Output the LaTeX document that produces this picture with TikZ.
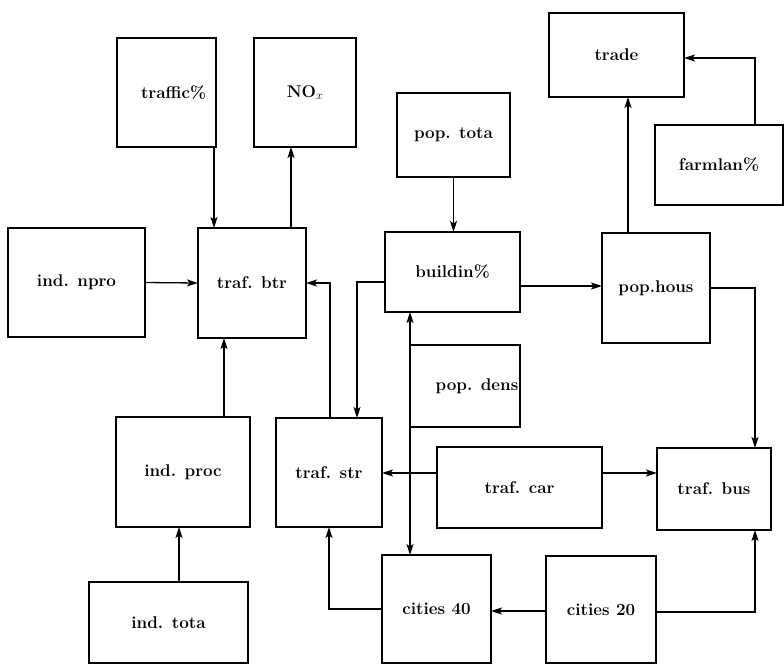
\documentclass[tikz,border=0pt]{standalone}
\usetikzlibrary{arrows.meta}
\begin{document}
\begin{tikzpicture}[x=1pt,y=-1pt,
  box/.style={draw,line width=1.6pt,rectangle,inner sep=0pt,outer sep=0pt,
    font=\fontsize{17}{20}\selectfont\bfseries},
  conn/.style={line width=1.3pt},
  arr/.style={conn,-{Stealth[length=11pt,width=7pt,inset=2.5pt]}}]
\useasboundingbox (0,0) rectangle (784,664);
% boxes
\node[box,minimum width=99pt,minimum height=109pt] (traffic) at (166.5,92.5) {\hspace*{14pt}traffic\%};
\node[box,minimum width=102pt,minimum height=109pt] (NOx) at (305,92.5) {NO$_x$};
\node[box,minimum width=137pt,minimum height=109pt] (indnpro) at (76.5,282.5) {ind. npro};
\node[box,minimum width=108pt,minimum height=110pt] (trafbtr) at (252,283) {traf. btr};
\node[box,minimum width=134pt,minimum height=110pt] (indproc) at (183,472) {ind. proc};
\node[box,minimum width=159pt,minimum height=81pt] (indtota) at (168.5,622.5) {ind. tota};
\node[box,minimum width=106pt,minimum height=109pt] (trafstr) at (329,472.5) {traf. str};
\node[box,minimum width=135pt,minimum height=80pt] (buildin) at (452.5,272) {buildin\%};
\node[box,minimum width=113pt,minimum height=84pt] (poptota) at (453.5,135) {pop. tota};
\node[box,minimum width=108pt,minimum height=110pt] (pophous) at (656,288) {pop.hous};
\node[box,minimum width=135pt,minimum height=84pt] (trade) at (616.5,55) {trade};
\node[box,minimum width=128pt,minimum height=80pt] (farmlan) at (719,165) {farmlan\%};
\node[box,minimum width=110pt,minimum height=82pt] (popdens) at (465,386) {\hspace*{24pt}pop. dens};
\node[box,minimum width=165pt,minimum height=81pt] (trafcar) at (519.5,487.5) {traf. car};
\node[box,minimum width=114pt,minimum height=82pt] (trafbus) at (714,489) {traf. bus};
\node[box,minimum width=109pt,minimum height=108pt] (cities40) at (436.5,609) {cities 40};
\node[box,minimum width=110pt,minimum height=107pt] (cities20) at (601,609.5) {cities 20};
% connectors
\draw[arr] (traffic.south -| 214,0) -- (trafbtr.north -| 214,0);
\draw[arr] (trafbtr.north -| 291,0) -- (NOx.south -| 291,0);
\draw[arr] (indnpro.east) -- (trafbtr.west);
\draw[arr] (indproc.north -| 224,0) -- (trafbtr.south -| 224,0);
\draw[arr] (indtota.north -| 179,0) -- (indproc.south -| 179,0);
\draw[arr] (trafstr.north -| 330,0) |- (trafbtr.east);
\draw[arr] (buildin.west |- 0,282) -| (trafstr.north -| 357,0);
\draw[arr] (poptota.south) -- (poptota.south |- buildin.north);
\draw[arr] (buildin.east |- 0,286) -- (pophous.west |- 0,286);
\draw[arr] (pophous.north -| 628,0) -- (trade.south -| 628,0);
\draw[arr] (farmlan.north -| 755,0) |- (trade.east |- 0,58);
\draw[arr] (pophous.east |- 0,288) -| (trafbus.north -| 755,0);
\draw[arr] (popdens.north west) -- (buildin.south -| popdens.north west);
\draw[arr] (popdens.south west) -- (cities40.north -| popdens.south west);
\draw[arr] (trafcar.west |- 0,473) -- (trafstr.east |- 0,473);
\draw[arr] (trafcar.east |- 0,473) -- (trafbus.west |- 0,473);
\draw[arr] (cities40.west |- 0,609) -| (trafstr.south -| 329,0);
\draw[arr] (cities20.west |- 0,611) -- (cities40.east |- 0,611);
\draw[arr] (cities20.east |- 0,612) -| (trafbus.south -| 755,0);
\end{tikzpicture}
\end{document}
